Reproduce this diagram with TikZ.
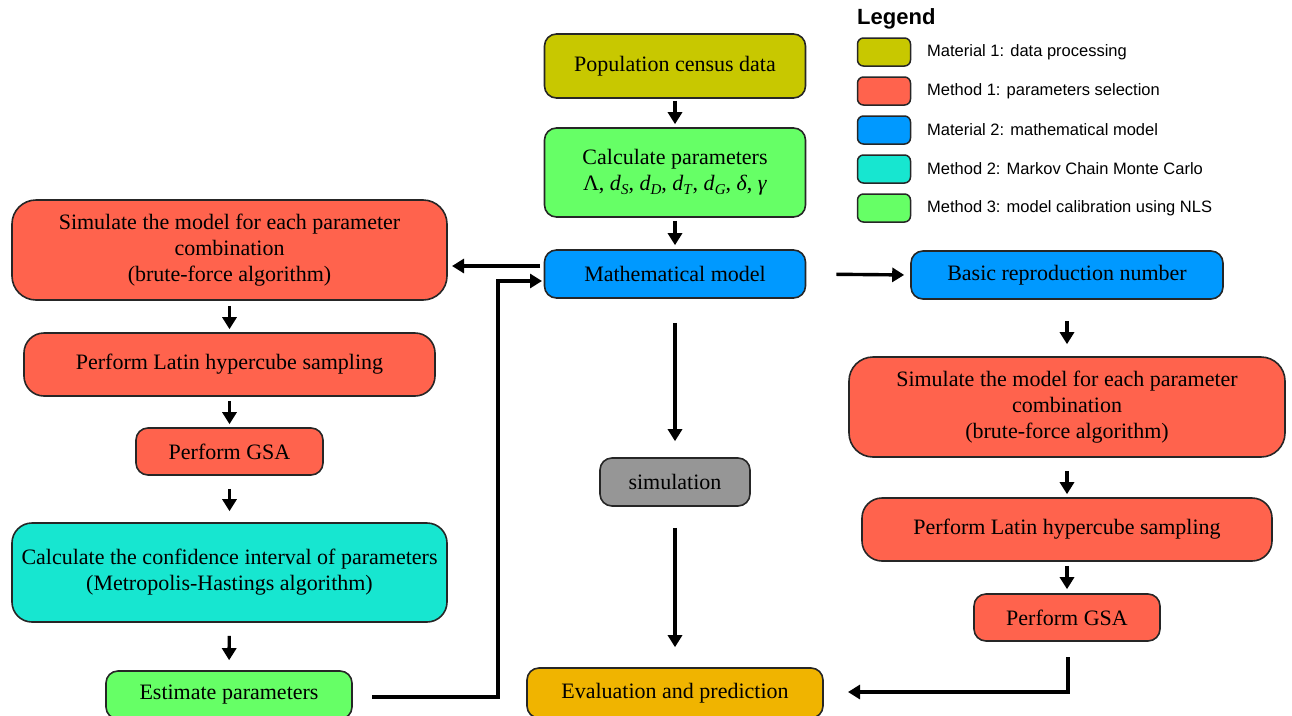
\documentclass[tikz,border=0pt]{standalone}
\usepackage{fontspec}
\setmainfont{Liberation Serif}
\newfontfamily\legendfont{Liberation Sans}
\usetikzlibrary{arrows.meta}
\definecolor{cOlive}{RGB}{200,200,0}
\definecolor{cGreen}{RGB}{102,255,102}
\definecolor{cBlue}{RGB}{0,153,255}
\definecolor{cRed}{RGB}{255,99,77}
\definecolor{cCyan}{RGB}{23,230,208}
\definecolor{cGray}{RGB}{150,150,150}
\definecolor{cOrange}{RGB}{240,180,0}
\newcommand\dsub[1]{\textit{d}\raisebox{-0.35ex}{\fontsize{15}{15}\selectfont\textit{#1}}}
\tikzset{
  box/.style={draw=black!85, line width=1.6pt, rounded corners=12pt, align=center,
    inner sep=0pt, font=\fontsize{22}{26}\selectfont},
  bigbox/.style={box, rounded corners=24pt},
  swatch/.style={draw=black!85, line width=1.5pt, rounded corners=6pt, minimum width=53pt, minimum height=28pt, inner sep=0pt},
  legtext/.style={anchor=west, inner sep=0pt, font=\legendfont\fontsize{16.5}{20}\selectfont},
  arr/.style={line width=3.4pt, -{Triangle[length=12pt,width=14pt]}},
}
\begin{document}
\begin{tikzpicture}[x=1pt,y=-1pt]
\useasboundingbox (0,0) rectangle (1292,715);
% centre column
\node[box, fill=cOlive, minimum width=261pt, minimum height=64pt] (pop) at (675,66) {Population census data};
\node[box, fill=cGreen, minimum width=261pt, minimum height=89pt] (calc) at (675,172.5)
  {Calculate parameters\\ Λ, \dsub{S}, \dsub{D}, \dsub{T}, \dsub{G}, \textit{δ}, \textit{γ}};
\node[box, fill=cBlue, minimum width=261pt, minimum height=48pt] (math) at (675,274) {Mathematical model};
\node[box, fill=cGray, minimum width=150pt, minimum height=48pt] (simu) at (675,482) {simulation};
\node[box, fill=cOrange, minimum width=296pt, minimum height=50pt] (eval) at (675,693) {Evaluation and prediction};
% left column
\node[bigbox, fill=cRed, minimum width=435pt, minimum height=100pt] (simL) at (229.5,250)
  {Simulate the model for each parameter\\ combination\\ (brute-force algorithm)};
\node[bigbox, rounded corners=20pt, fill=cRed, minimum width=411pt, minimum height=63pt] (latL) at (229.5,364.5) {Perform Latin hypercube sampling};
\node[box, fill=cRed, minimum width=187pt, minimum height=47pt] (gsaL) at (229.5,451.5) {Perform GSA};
\node[bigbox, rounded corners=20pt, fill=cCyan, minimum width=435pt, minimum height=99pt] (conf) at (229.5,572.5)
  {Calculate the confidence interval of parameters\\ (Metropolis-Hastings algorithm)};
\node[box, fill=cGreen, minimum width=246pt, minimum height=48pt] (est) at (229,695) {Estimate parameters};
% right column
\node[box, fill=cBlue, minimum width=312pt, minimum height=48pt] (basic) at (1067,275) {Basic reproduction number};
\node[bigbox, fill=cRed, minimum width=436pt, minimum height=100pt] (simR) at (1067,407)
  {Simulate the model for each parameter\\ combination\\ (brute-force algorithm)};
\node[bigbox, rounded corners=20pt, fill=cRed, minimum width=410pt, minimum height=63pt] (latR) at (1067,529.5) {Perform Latin hypercube sampling};
\node[box, fill=cRed, minimum width=186pt, minimum height=47pt] (gsaR) at (1067,617.5) {Perform GSA};
% legend
\node[anchor=west, inner sep=0pt, font=\legendfont\bfseries\fontsize{22}{24}\selectfont] (leg) at (857,19) {Legend};
\node[swatch, fill=cOlive] (s1) at (884,52) {};
\node[swatch, fill=cRed] (s2) at (884,91) {};
\node[swatch, fill=cBlue] (s3) at (884,130) {};
\node[swatch, fill=cCyan] (s4) at (884,169) {};
\node[swatch, fill=cGreen] (s5) at (884,208) {};
\node[legtext] (l1) at (927,52) {Material 1: data processing};
\node[legtext] (l2) at (927,91) {Method 1: parameters selection};
\node[legtext] (l3) at (927,130) {Material 2: mathematical model};
\node[legtext] (l4) at (927,169) {Method 2: Markov Chain Monte Carlo};
\node[legtext] (l5) at (927,208) {Method 3: model calibration using NLS};
% arrows centre
\draw[arr, shorten <=2pt, shorten >=3pt] (pop) -- (calc);
\draw[arr, shorten <=3pt, shorten >=4pt] (calc) -- (math);
\draw[arr, shorten <=24pt, shorten >=16pt] (math) -- (simu);
\draw[arr, shorten <=21pt, shorten >=20pt] (simu) -- (eval);
% arrows left
\draw[arr, shorten <=5pt, shorten >=3pt] (simL) -- (latL);
\draw[arr, shorten <=4pt, shorten >=3pt] (latL) -- (gsaL);
\draw[arr, shorten <=13pt, shorten >=11pt] (gsaL) -- (conf);
\draw[arr, shorten <=13pt, shorten >=10pt] (conf) -- (est);
% arrows right
\draw[arr, shorten <=21pt, shorten >=12pt] (basic) -- (simR);
\draw[arr, shorten <=13pt, shorten >=3pt] (simR) -- (latR);
\draw[arr, shorten <=4pt, shorten >=4pt] (latR) -- (gsaR);
% horizontal connectors
\draw[arr, shorten <=30pt, shorten >=6pt] (math.east) -- (basic.west);
\coordinate (mL) at (540,266);
\coordinate (sL) at (447,266);
\draw[arr, shorten >=5pt] (mL) -- (sL);
\coordinate (e1) at (372,697);
\coordinate (e2) at (498,697);
\coordinate (e3) at (498,281);
\coordinate (e4) at (544,281);
\draw[arr, shorten >=2pt] (e1) -- (e2) -- (e3) -- (e4);
\coordinate (g1) at (1068,657);
\coordinate (g2) at (1068,692);
\coordinate (g3) at (823,692);
\draw[arr, shorten >=25pt] (g1) -- (g2) -- (g3);
\end{tikzpicture}
\end{document}
